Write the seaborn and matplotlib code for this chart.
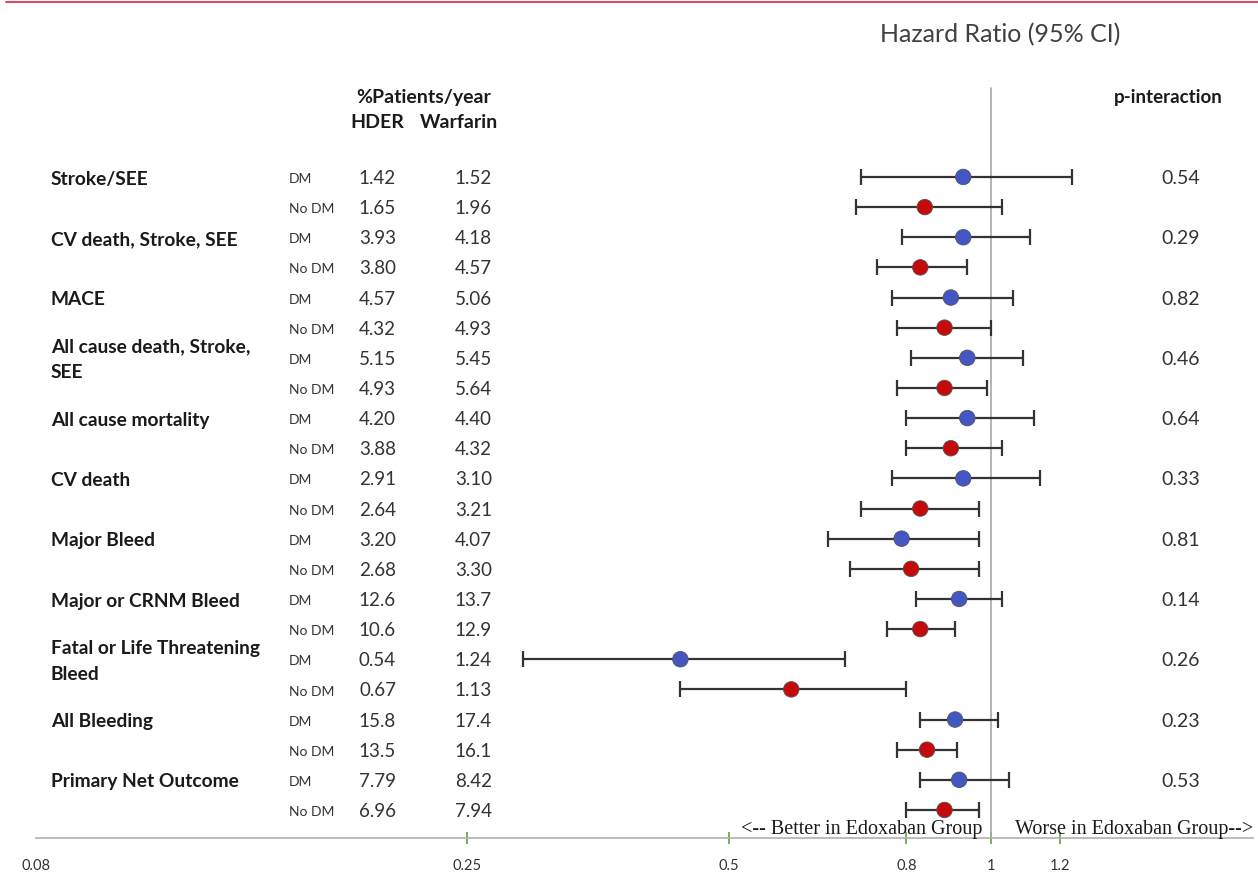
import numpy as np
import pandas as pd
import seaborn as sns
import matplotlib.pyplot as plt
import matplotlib.transforms as mtransforms
from matplotlib.lines import Line2D
from matplotlib.ticker import NullLocator, FixedLocator, FixedFormatter

# outcomes (one per pair of rows)
outcomes = ["Stroke/SEE", "CV death, Stroke, SEE", "MACE",
            "All cause death, Stroke,\nSEE", "All cause mortality", "CV death",
            "Major Bleed", "Major or CRNM Bleed",
            "Fatal or Life Threatening\nBleed", "All Bleeding", "Primary Net Outcome"]
p_interaction = ["0.54", "0.29", "0.82", "0.46", "0.64", "0.33",
                 "0.81", "0.14", "0.26", "0.23", "0.53"]

# rows: DM, No DM alternating
groups = ["DM", "No DM"] * 11
hder = ["1.42", "1.65", "3.93", "3.80", "4.57", "4.32", "5.15", "4.93", "4.20", "3.88",
        "2.91", "2.64", "3.20", "2.68", "12.6", "10.6", "0.54", "0.67", "15.8", "13.5",
        "7.79", "6.96"]
warfarin = ["1.52", "1.96", "4.18", "4.57", "5.06", "4.93", "5.45", "5.64", "4.40", "4.32",
            "3.10", "3.21", "4.07", "3.30", "13.7", "12.9", "1.24", "1.13", "17.4", "16.1",
            "8.42", "7.94"]
hr = [0.93, 0.84, 0.93, 0.83, 0.90, 0.885, 0.94, 0.885, 0.94, 0.90, 0.93,
      0.83, 0.79, 0.81, 0.92, 0.83, 0.44, 0.59, 0.91, 0.845, 0.92, 0.885]
lo = [0.71, 0.70, 0.79, 0.74, 0.77, 0.78, 0.81, 0.78, 0.80, 0.80, 0.77,
      0.71, 0.65, 0.69, 0.82, 0.76, 0.29, 0.44, 0.83, 0.78, 0.83, 0.80]
hi = [1.24, 1.03, 1.11, 0.94, 1.06, 1.00, 1.09, 0.99, 1.12, 1.03, 1.14,
      0.97, 0.97, 0.97, 1.03, 0.91, 0.68, 0.80, 1.02, 0.915, 1.05, 0.97]

xticks = [0.08, 0.25, 0.5, 0.8, 1, 1.2]
xticklabels = ["0.08", "0.25", "0.5", "0.8", "1", "1.2"]

sns.set_style("white")
plt.rcParams['font.family'] = ['Lato', 'DejaVu Sans']

W, H = 1258, 881
fig = plt.figure(figsize=(W / 100, H / 100), dpi=100)
ax = fig.add_axes([36 / W, (H - 838) / H, (1252.7 - 36) / W, (838 - 60) / H])

rows = np.arange(len(hr))
df = pd.DataFrame({"row": rows, "hr": hr, "lo": lo, "hi": hi, "group": groups})

ax.errorbar(df["hr"], df["row"], xerr=[df["hr"] - df["lo"], df["hi"] - df["hr"]],
            fmt="none", ecolor="#333333", elinewidth=1.6, capsize=6, capthick=1.6, zorder=2)
sns.scatterplot(data=df, x="hr", y="row", hue="group",
                palette={"DM": "#4356c4", "No DM": "#c40a0a"},
                s=125, edgecolor="#555555", linewidth=0.6, legend=False, ax=ax, zorder=3)

ax.set_xscale("log")
ax.set_xlim(0.08, 2.0)
ax.set_ylim(21.93, -3.88)
ax.plot([1, 1], [-2.95, 21.93], color="#a8a8a8", lw=1.2, zorder=1)

ax.xaxis.set_major_locator(FixedLocator(xticks))
ax.xaxis.set_major_formatter(FixedFormatter(xticklabels))
ax.xaxis.set_minor_locator(NullLocator())
ax.tick_params(axis="x", bottom=True, direction="inout", length=8, width=1.3,
               color="#6aa84f", labelsize=10.5, labelcolor="#333333", pad=11)
ax.xaxis.get_major_ticks()[0].tick1line.set_visible(False)
ax.set_yticks([])
ax.set_xlabel("")
ax.set_ylabel("")
for side in ["top", "left", "right"]:
    ax.spines[side].set_visible(False)
ax.spines["bottom"].set_color("#b0b0b0")
ax.spines["bottom"].set_linewidth(1.2)

tr = mtransforms.blended_transform_factory(fig.transFigure, ax.transData)

# column headers
ax.text(424 / W, -2.65, "%Patients/year", transform=tr, ha="center", va="center",
        fontsize=14, fontweight="bold", color="#1a1a1a")
ax.text(377 / W, -1.82, "HDER", transform=tr, ha="center", va="center",
        fontsize=14, fontweight="bold", color="#1a1a1a")
ax.text(459 / W, -1.82, "Warfarin", transform=tr, ha="center", va="center",
        fontsize=14, fontweight="bold", color="#1a1a1a")
ax.text(1168 / W, -2.65, "p-interaction", transform=tr, ha="center", va="center",
        fontsize=13.5, fontweight="bold", color="#1a1a1a")

for i, name in enumerate(outcomes):
    r = 2 * i
    ax.text(51 / W, r + 0.07, name, transform=tr, ha="left", va="center",
            fontsize=13.8, fontweight="bold", color="#1a1a1a", linespacing=1.6)
    ax.text(1181 / W, r + 0.05, p_interaction[i], transform=tr, ha="center", va="center",
            fontsize=14, color="#333333")

for r in rows:
    ax.text(289 / W, r + 0.07, groups[r], transform=tr, ha="left", va="center",
            fontsize=10, color="#333333")
    ax.text(396 / W, r + 0.05, hder[r], transform=tr, ha="right", va="center",
            fontsize=13.5, color="#333333")
    ax.text(492 / W, r + 0.05, warfarin[r], transform=tr, ha="right", va="center",
            fontsize=13.5, color="#333333")

ax.text(982 / W, 21.65, "<-- Better in Edoxaban Group", transform=tr, ha="right",
        va="center", fontsize=14.5, family="Liberation Serif", color="#1a1a1a")
ax.text(1015 / W, 21.65, "Worse in Edoxaban Group-->", transform=tr, ha="left",
        va="center", fontsize=14.5, family="Liberation Serif", color="#1a1a1a")

fig.text(1000 / W, 1 - 35 / H, "Hazard Ratio (95% CI)", ha="center", va="center",
         fontsize=18, color="#404040")
fig.add_artist(Line2D([6 / W, 1], [1 - 2 / H, 1 - 2 / H], color="#e0486a", lw=1.5))

fig.savefig("out.png", dpi=100)
